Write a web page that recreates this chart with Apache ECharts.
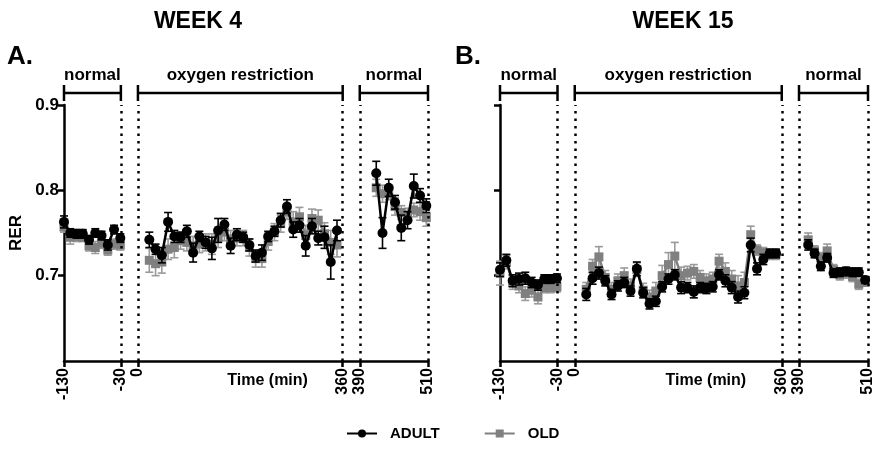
<!DOCTYPE html>
<html><head><meta charset="utf-8">
<script src="https://cdn.jsdelivr.net/npm/echarts@6/dist/echarts.min.js"></script>
<style>html,body{margin:0;padding:0;background:#fff}#c{width:877px;height:452px}</style>
</head><body><div id="c"></div>
<script>
// ---------- data ----------
const xTickValues = [-130, -30, 0, 360, 390, 510];
const yTickValues = [0.7, 0.8, 0.9];
const panelTitles = ['WEEK 4', 'WEEK 15'];
const panelLetters = ['A.', 'B.'];
const phaseLabels = ['normal', 'oxygen restriction', 'normal'];
const phaseStarts = [-130, 0, 390];
const phaseEnds = [-30, 360, 510];
const phaseDividers = [-30, 0, 360, 390, 510];
const groupNames = ['ADULT', 'OLD'];

const timePre = [-130, -119, -108, -97, -86, -75, -64, -53, -42, -31];
const timeO2 = [20, 31, 42, 53, 64, 75, 86, 97, 108, 119, 130, 141, 152, 163, 174, 185, 196, 207, 218, 229, 240, 251, 262, 273, 284, 295, 306, 317, 328, 339, 350];
const timePostW4 = [419, 430, 441, 452, 463, 474, 485, 496, 507];
const timePostW15 = [406, 417, 428, 439, 450, 461, 472, 483, 494, 505];

// WEEK 4
const w4AdultPre = [0.763, 0.750, 0.749, 0.749, 0.742, 0.750, 0.747, 0.736, 0.754, 0.744];
const w4AdultPreErr = [0.007, 0.005, 0.005, 0.005, 0.005, 0.005, 0.005, 0.006, 0.005, 0.005];
const w4OldPre = [0.757, 0.745, 0.746, 0.745, 0.735, 0.733, 0.738, 0.730, 0.737, 0.736];
const w4OldPreErr = [0.006, 0.008, 0.006, 0.005, 0.006, 0.007, 0.006, 0.006, 0.006, 0.006];

const w4AdultO2 = [0.742, 0.731, 0.724, 0.763, 0.746, 0.745, 0.752, 0.727, 0.746, 0.739, 0.732, 0.753, 0.760, 0.735, 0.748, 0.745, 0.736, 0.723, 0.727, 0.746, 0.752, 0.765, 0.781, 0.754, 0.759, 0.735, 0.758, 0.744, 0.745, 0.716, 0.753];
const w4AdultO2Err = [0.009, 0.006, 0.009, 0.011, 0.007, 0.006, 0.007, 0.011, 0.006, 0.007, 0.013, 0.014, 0.007, 0.009, 0.007, 0.006, 0.007, 0.007, 0.009, 0.006, 0.006, 0.008, 0.008, 0.009, 0.008, 0.012, 0.009, 0.008, 0.013, 0.020, 0.012];
const w4OldO2 = [0.718, 0.714, 0.716, 0.731, 0.733, 0.741, 0.739, 0.735, 0.737, 0.739, 0.737, 0.745, 0.751, 0.743, 0.744, 0.744, 0.733, 0.720, 0.720, 0.740, 0.751, 0.761, 0.775, 0.763, 0.769, 0.747, 0.767, 0.765, 0.749, 0.739, 0.736];
const w4OldO2Err = [0.014, 0.014, 0.013, 0.012, 0.012, 0.010, 0.010, 0.011, 0.010, 0.010, 0.012, 0.012, 0.010, 0.010, 0.009, 0.009, 0.010, 0.010, 0.010, 0.010, 0.010, 0.010, 0.009, 0.012, 0.011, 0.012, 0.011, 0.012, 0.013, 0.014, 0.014];

const w4AdultPost = [0.820, 0.750, 0.803, 0.786, 0.756, 0.765, 0.805, 0.794, 0.782];
const w4AdultPostErr = [0.014, 0.018, 0.010, 0.008, 0.015, 0.010, 0.014, 0.008, 0.008];
const w4OldPost = [0.803, 0.796, 0.797, 0.781, 0.774, 0.771, 0.777, 0.775, 0.768];
const w4OldPostErr = [0.010, 0.010, 0.008, 0.010, 0.008, 0.008, 0.008, 0.010, 0.010];

// WEEK 15
const w15AdultPre = [0.707, 0.718, 0.694, 0.696, 0.697, 0.692, 0.689, 0.696, 0.696, 0.697];
const w15AdultPreErr = [0.008, 0.007, 0.007, 0.007, 0.007, 0.006, 0.006, 0.005, 0.005, 0.005];
const w15OldPre = [0.703, 0.716, 0.692, 0.688, 0.679, 0.683, 0.675, 0.686, 0.686, 0.687];
const w15OldPreErr = [0.014, 0.008, 0.008, 0.008, 0.008, 0.008, 0.008, 0.006, 0.006, 0.006];

const w15AdultO2 = [0.678, 0.697, 0.703, 0.694, 0.678, 0.688, 0.692, 0.682, 0.708, 0.680, 0.667, 0.670, 0.687, 0.696, 0.701, 0.686, 0.686, 0.681, 0.686, 0.685, 0.687, 0.701, 0.694, 0.686, 0.675, 0.680, 0.736, 0.708, 0.719, 0.726, 0.726];
const w15AdultO2Err = [0.007, 0.007, 0.007, 0.006, 0.006, 0.006, 0.006, 0.006, 0.008, 0.006, 0.006, 0.006, 0.006, 0.006, 0.006, 0.007, 0.006, 0.007, 0.006, 0.006, 0.006, 0.006, 0.007, 0.007, 0.007, 0.007, 0.008, 0.007, 0.006, 0.005, 0.005];
const w15OldO2 = [0.684, 0.711, 0.722, 0.698, 0.684, 0.694, 0.700, 0.688, 0.707, 0.683, 0.675, 0.682, 0.700, 0.713, 0.723, 0.700, 0.703, 0.705, 0.698, 0.694, 0.696, 0.717, 0.705, 0.696, 0.688, 0.692, 0.748, 0.730, 0.727, 0.725, 0.725];
const w15OldO2Err = [0.008, 0.008, 0.012, 0.008, 0.008, 0.008, 0.009, 0.008, 0.008, 0.008, 0.008, 0.010, 0.012, 0.014, 0.016, 0.010, 0.008, 0.008, 0.008, 0.008, 0.008, 0.008, 0.010, 0.010, 0.012, 0.012, 0.010, 0.006, 0.006, 0.006, 0.006];

const w15AdultPost = [0.736, 0.726, 0.711, 0.721, 0.703, 0.704, 0.705, 0.704, 0.704, 0.695];
const w15AdultPostErr = [0.006, 0.005, 0.005, 0.005, 0.005, 0.005, 0.005, 0.005, 0.005, 0.004];
const w15OldPost = [0.742, 0.729, 0.721, 0.729, 0.707, 0.701, 0.703, 0.699, 0.690, 0.692];
const w15OldPostErr = [0.008, 0.006, 0.006, 0.008, 0.006, 0.006, 0.006, 0.006, 0.006, 0.004];

// ---------- build ----------
const FONT = 'Arial, "Liberation Sans", Helvetica, sans-serif';
const ADULT_COLOR = '#000000';
const OLD_COLOR = '#808080';
const OLD_ERR_COLOR = '#9a9a9a';

const panels = [
  { segs: [
    [timePre, w4AdultPre, w4AdultPreErr, w4OldPre, w4OldPreErr],
    [timeO2, w4AdultO2, w4AdultO2Err, w4OldO2, w4OldO2Err],
    [timePostW4, w4AdultPost, w4AdultPostErr, w4OldPost, w4OldPostErr]
  ]},
  { segs: [
    [timePre, w15AdultPre, w15AdultPreErr, w15OldPre, w15OldPreErr],
    [timeO2, w15AdultO2, w15AdultO2Err, w15OldO2, w15OldO2Err],
    [timePostW15, w15AdultPost, w15AdultPostErr, w15OldPost, w15OldPostErr]
  ]}
];

function errRenderer(color) {
  return function (params, api) {
    const x = api.value(0), y = api.value(1), e = api.value(2);
    const top = api.coord([x, y + e]);
    const bot = api.coord([x, y - e]);
    const hw = 4;
    const st = { stroke: color, lineWidth: 1.6 };
    return { type: 'group', children: [
      { type: 'line', shape: { x1: top[0], y1: top[1], x2: bot[0], y2: bot[1] }, style: st },
      { type: 'line', shape: { x1: top[0] - hw, y1: top[1], x2: top[0] + hw, y2: top[1] }, style: st },
      { type: 'line', shape: { x1: bot[0] - hw, y1: bot[1], x2: bot[0] + hw, y2: bot[1] }, style: st }
    ]};
  };
}

const series = [];
panels.forEach((panel, p) => {
  panel.segs.forEach((seg, s) => {
    const [t, a, ae, o, oe] = seg;
    series.push({ type: 'custom', name: 'OLD err', xAxisIndex: p, yAxisIndex: p, z: 1,
      renderItem: errRenderer(OLD_ERR_COLOR), encode: { x: 0, y: 1 },
      data: t.map((v, i) => [v, o[i], oe[i]]) });
    series.push({ type: 'line', name: groupNames[1], xAxisIndex: p, yAxisIndex: p, z: 2,
      symbol: 'rect', symbolSize: 9, color: OLD_COLOR,
      lineStyle: { color: OLD_COLOR, width: 2.5 }, itemStyle: { color: OLD_COLOR },
      data: t.map((v, i) => [v, o[i]]) });
    series.push({ type: 'custom', name: 'ADULT err', xAxisIndex: p, yAxisIndex: p, z: 3,
      renderItem: errRenderer(ADULT_COLOR), encode: { x: 0, y: 1 },
      data: t.map((v, i) => [v, a[i], ae[i]]) });
    const adultSeries = { type: 'line', name: groupNames[0], xAxisIndex: p, yAxisIndex: p, z: 4,
      symbol: 'circle', symbolSize: 10, color: ADULT_COLOR,
      lineStyle: { color: ADULT_COLOR, width: 2.5 }, itemStyle: { color: ADULT_COLOR },
      data: t.map((v, i) => [v, a[i]]) };
    if (s === 0) {
      adultSeries.markLine = { silent: true, symbol: 'none', label: { show: false },
        lineStyle: { color: '#000', type: [2.5, 5], width: 2.5 },
        data: phaseDividers.map(v => ({ xAxis: v })) };
    }
    series.push(adultSeries);
  });
});

const grids = [
  { left: 64, right: 449, top: 105, bottom: 91 },
  { left: 500, right: 9, top: 105, bottom: 91 }
];

const xAxes = grids.map((g, p) => ({
  type: 'value', gridIndex: p, min: -130, max: 510,
  axisLine: { show: true, onZero: false, lineStyle: { color: '#000', width: 2.5 } },
  axisTick: { show: true, customValues: xTickValues, length: 6, lineStyle: { color: '#000', width: 2.5 } },
  axisLabel: { show: true, customValues: xTickValues, rotate: 90, margin: 7,
    color: '#000', fontWeight: 'bold', fontSize: 16, fontFamily: FONT },
  splitLine: { show: false }
}));

const yAxes = grids.map((g, p) => ({
  type: 'value', gridIndex: p, min: 0.6, max: 0.9, interval: 0.1,
  name: p === 0 ? 'RER' : '', nameLocation: 'middle', nameGap: 39,
  nameTextStyle: { color: '#000', fontWeight: 'bold', fontSize: 17, fontFamily: FONT },
  axisLine: { show: true, onZero: false, lineStyle: { color: '#000', width: 2.5 } },
  axisTick: { show: true, customValues: yTickValues, length: 6, lineStyle: { color: '#000', width: 2.5 } },
  axisLabel: { show: p === 0, customValues: yTickValues, margin: 5,
    formatter: v => Number(v).toFixed(1),
    color: '#000', fontWeight: 'bold', fontSize: 17, fontFamily: FONT },
  splitLine: { show: false }
}));

const chart = echarts.init(document.getElementById('c'), null, { renderer: 'canvas' });
chart.setOption({
  backgroundColor: '#fff',
  animation: false,
  grid: grids,
  xAxis: xAxes,
  yAxis: yAxes,
  legend: {
    data: groupNames, bottom: 6, left: 341, itemWidth: 30, itemHeight: 10, itemGap: 44,
    textStyle: { color: '#000', fontWeight: 'bold', fontSize: 15, fontFamily: FONT, padding: [0, 0, 0, 8] }
  },
  series: series
});

const graphics = [];
const titleX = [198, 683];
panels.forEach((panel, p) => {
  graphics.push({ type: 'text', x: titleX[p], y: 22,
    style: { text: panelTitles[p], textAlign: 'center', textVerticalAlign: 'middle',
      font: 'bold 23px ' + FONT, fill: '#000' } });
  graphics.push({ type: 'text', x: p === 0 ? 7 : 455, y: 57,
    style: { text: panelLetters[p], textAlign: 'left', textVerticalAlign: 'middle',
      font: 'bold 26px ' + FONT, fill: '#000' } });
  phaseLabels.forEach((lab, k) => {
    const x1 = chart.convertToPixel({ xAxisIndex: p }, phaseStarts[k]);
    const x2 = chart.convertToPixel({ xAxisIndex: p }, phaseEnds[k]);
    const yb = 93;
    const st = { stroke: '#000', lineWidth: 2.5 };
    graphics.push({ type: 'line', shape: { x1: x1, y1: yb, x2: x2, y2: yb }, style: st });
    graphics.push({ type: 'line', shape: { x1: x1, y1: yb - 8, x2: x1, y2: yb + 8 }, style: st });
    graphics.push({ type: 'line', shape: { x1: x2, y1: yb - 8, x2: x2, y2: yb + 8 }, style: st });
    graphics.push({ type: 'text', x: (x1 + x2) / 2, y: 75,
      style: { text: lab, textAlign: 'center', textVerticalAlign: 'middle',
        font: 'bold 17px ' + FONT, fill: '#000' } });
  });
  const nx = chart.convertToPixel({ xAxisIndex: p }, 228);
  graphics.push({ type: 'text', x: nx, y: 381,
    style: { text: 'Time (min)', textAlign: 'center', textVerticalAlign: 'middle',
      font: 'bold 16px ' + FONT, fill: '#000' } });
});
chart.setOption({ graphic: graphics });
</script>
</body></html>
